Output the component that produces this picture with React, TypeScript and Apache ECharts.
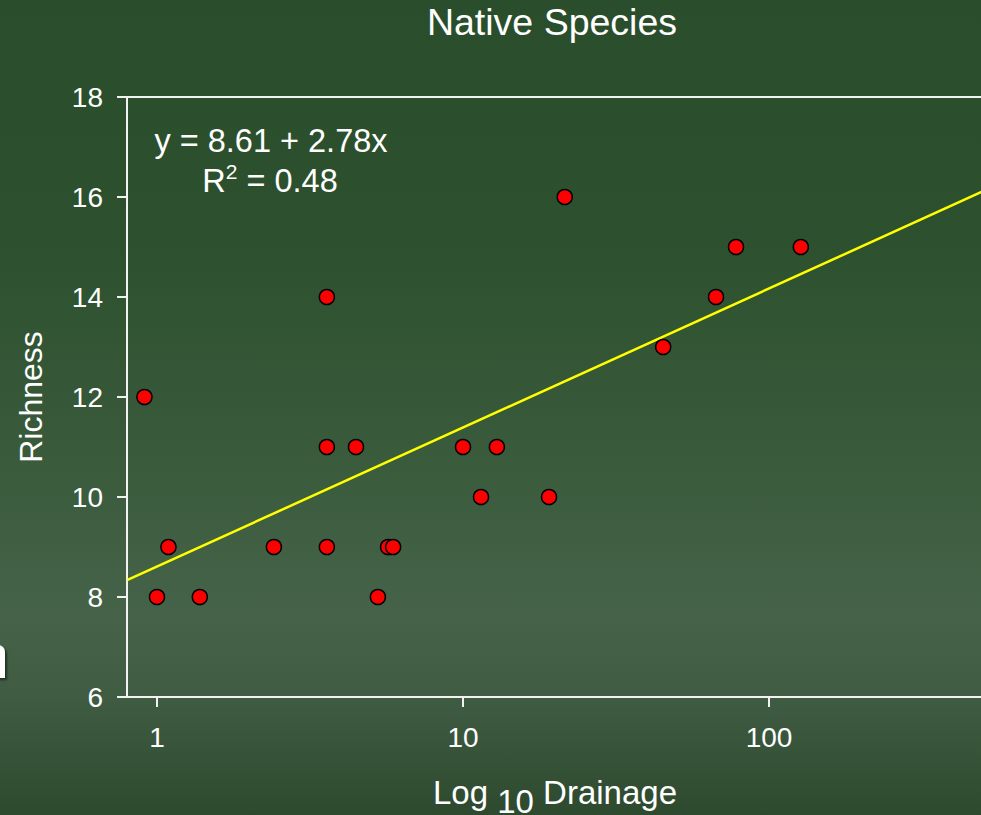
import React, { useEffect, useRef } from "react";
import * as echarts from "echarts";

// Data
const drainage = [0.91, 1.0, 1.09, 1.38, 2.41, 3.59, 3.59, 3.59, 4.47, 5.27, 5.69, 5.91, 10.0, 11.45, 12.9, 19.1, 21.5, 45.1, 67.1, 78.0, 127.0];
const richness = [12, 8, 9, 8, 9, 14, 11, 9, 11, 8, 9, 9, 11, 10, 11, 10, 16, 13, 14, 15, 15];
const xTickValues = [0, 1, 2]; // log10 positions of 1, 10, 100
const yTicks = { min: 6, max: 18, interval: 2 };
const fitIntercept = 8.61;
const fitSlope = 2.78;
const fitR2 = "0.48";
const X_MIN = -0.098;
const X_MAX = 2.758;

const FONT = "'Liberation Sans', Arial, Helvetica, sans-serif";

export default function App() {
  const ref = useRef<HTMLDivElement>(null);
  useEffect(() => {
    if (!ref.current) return;
    const chart = echarts.init(ref.current, null, { renderer: "svg" });
    const points = drainage.map((d, i) => [Math.log10(d), richness[i]]);
    const fitLine = [
      [X_MIN, fitIntercept + fitSlope * X_MIN],
      [X_MAX, fitIntercept + fitSlope * X_MAX],
    ];
    const white = "#ffffff";
    chart.setOption({
      animation: false,
      textStyle: { fontFamily: FONT },
      title: {
        text: "Native Species",
        left: 552,
        top: 3,
        padding: 0,
        textAlign: "center",
        textStyle: { color: white, fontSize: 37.5, fontWeight: "normal", fontFamily: FONT },
      },
      grid: {
        left: 127,
        top: 97,
        width: 874,
        height: 600,
        outerBoundsMode: "none",
        containLabel: false,
        show: true,
        borderColor: "#f2f2f2",
        borderWidth: 2,
        backgroundColor: "transparent",
      },
      xAxis: {
        type: "value",
        min: X_MIN,
        max: X_MAX,
        splitLine: { show: false },
        axisLine: { onZero: false, lineStyle: { color: "#f2f2f2", width: 2 } },
        axisTick: { show: true, customValues: xTickValues, length: 10, lineStyle: { color: "#f2f2f2", width: 2 } },
        axisLabel: {
          customValues: xTickValues,
          formatter: (v: number) => String(Math.round(Math.pow(10, v))),
          color: white,
          fontSize: 28,
          fontFamily: FONT,
          margin: 26,
        },
        name: "{a|Log }{s|10}{a| Drainage}",
        nameLocation: "middle",
        nameGap: 79,
        nameTextStyle: {
          padding: [0, 18, 0, 0],
          rich: {
            a: { fontSize: 33, color: white, fontFamily: FONT, verticalAlign: "top", lineHeight: 33 },
            s: { fontSize: 33, color: white, fontFamily: FONT, verticalAlign: "top", lineHeight: 33, padding: [9, 0, 0, 0] },
          },
        },
      },
      yAxis: {
        type: "value",
        min: yTicks.min,
        max: yTicks.max,
        interval: yTicks.interval,
        splitLine: { show: false },
        axisLine: { show: true, onZero: false, lineStyle: { color: "#f2f2f2", width: 2 } },
        axisTick: { show: true, length: 10, lineStyle: { color: "#f2f2f2", width: 2 } },
        axisLabel: { color: white, fontSize: 28, fontFamily: FONT, margin: 24 },
        name: "Richness",
        nameLocation: "middle",
        nameRotate: 90,
        nameGap: 80,
        nameTextStyle: { color: white, fontSize: 32, fontFamily: FONT },
      },
      series: [
        {
          type: "line",
          data: fitLine,
          symbol: "none",
          clip: true,
          lineStyle: { color: "#ffff00", width: 2.5 },
          z: 2,
        },
        {
          type: "scatter",
          data: points,
          symbolSize: 15,
          itemStyle: { color: "#ff0000", borderColor: "#000000", borderWidth: 1.5, opacity: 1 },
          z: 3,
        },
      ],
      graphic: [
        {
          type: "text",
          x: 271,
          y: 141,
          style: {
            text: `y = ${fitIntercept} + ${fitSlope}x`,
            fill: white,
            fontSize: 32.5,
            fontFamily: FONT,
            align: "center",
            verticalAlign: "middle",
          },
        },
        {
          type: "text",
          x: 270,
          y: 179,
          style: {
            text: `{r|R}{sup|2}{r| = ${fitR2}}`,
            align: "center",
            verticalAlign: "middle",
            rich: {
              r: { fontSize: 32.5, fill: white, fontFamily: FONT, lineHeight: 36, verticalAlign: "bottom" },
              sup: { fontSize: 21, fill: white, fontFamily: FONT, lineHeight: 21, verticalAlign: "top" },
            },
          },
        },
        {
          type: "rect",
          shape: { x: -10, y: 645, width: 15, height: 33, r: [0, 7, 0, 0] },
          style: { fill: "#ffffff", shadowColor: "rgba(0,0,0,0.5)", shadowOffsetX: 2, shadowOffsetY: 2, shadowBlur: 2 },
        },
      ],
    });
    return () => chart.dispose();
  }, []);
  return (
    <div
      ref={ref}
      style={{
        position: "absolute",
        left: 0,
        top: 0,
        width: 981,
        height: 815,
        overflow: "hidden",
        background:
          "linear-gradient(to bottom, #2a4e2b 0%, #2d512e 30%, #395a3b 55%, #466349 76%, #3f5c42 86%, #2d4a2f 100%)",
      }}
    />
  );
}
